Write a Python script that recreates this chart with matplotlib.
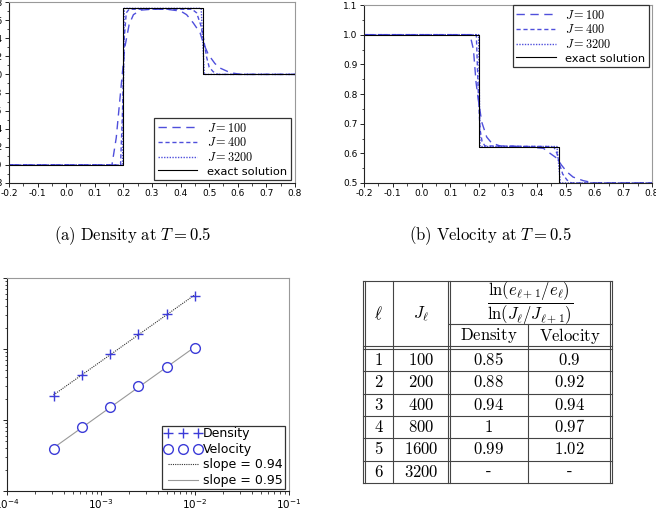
import numpy as np
import matplotlib
matplotlib.use("Agg")
import matplotlib.pyplot as plt
from matplotlib.font_manager import FontProperties

# ── data ──────────────────────────────────────────────────────────────────────
exact_x = [-0.2, 0.2, 0.2, 0.477, 0.477, 0.8]
rho_exact = [1.0, 1.0, 2.73, 2.73, 2.0, 2.0]
u_exact = [1.0, 1.0, 0.623, 0.623, 0.5, 0.5]

rho100_x = [-0.2, 0.16, 0.175, 0.19, 0.205, 0.22, 0.235, 0.26, 0.3, 0.35, 0.40,
            0.421, 0.444, 0.468, 0.479, 0.497, 0.52, 0.538, 0.573, 0.61, 0.8]
rho100_y = [1.0, 1.0, 1.3, 1.8, 2.3, 2.55, 2.66, 2.71, 2.72, 2.72, 2.70,
            2.66, 2.57, 2.46, 2.35, 2.22, 2.12, 2.07, 2.02, 2.0, 2.0]
rho400_x = [-0.2, 0.19, 0.197, 0.203, 0.21, 0.22, 0.44, 0.456, 0.47, 0.48,
            0.491, 0.50, 0.514, 0.53, 0.8]
rho400_y = [1.0, 1.0, 1.6, 2.4, 2.68, 2.72, 2.72, 2.68, 2.55, 2.4,
            2.19, 2.08, 2.03, 2.0, 2.0]
rho3200_x = [-0.2, 0.197, 0.203, 0.472, 0.483, 0.8]
rho3200_y = [1.0, 1.0, 2.73, 2.73, 2.0, 2.0]

u100_x = [-0.2, 0.168, 0.18, 0.189, 0.197, 0.209, 0.226, 0.243, 0.272, 0.35,
          0.423, 0.446, 0.469, 0.486, 0.504, 0.526, 0.561, 0.6, 0.8]
u100_y = [1.0, 1.0, 0.95, 0.84, 0.78, 0.705, 0.655, 0.635, 0.625, 0.623,
          0.617, 0.60, 0.584, 0.56, 0.538, 0.52, 0.508, 0.5, 0.5]
u400_x = [-0.2, 0.19, 0.197, 0.203, 0.21, 0.22, 0.44, 0.46, 0.47, 0.48, 0.49,
          0.505, 0.52, 0.8]
u400_y = [1.0, 1.0, 0.8, 0.68, 0.64, 0.625, 0.623, 0.62, 0.60, 0.56, 0.53,
          0.51, 0.5, 0.5]
u3200_x = [-0.2, 0.198, 0.203, 0.47, 0.482, 0.8]
u3200_y = [1.0, 1.0, 0.623, 0.623, 0.5, 0.5]

J_levels = [3200, 1600, 800, 400, 200, 100]
err_density = [0.0218, 0.0431, 0.0851, 0.164, 0.309, 0.557]
err_velocity = [0.00386, 0.00796, 0.01538, 0.0299, 0.0557, 0.1033]
slope_labels = ["slope = 0.94", "slope = 0.95"]

table_ell = ["1", "2", "3", "4", "5", "6"]
table_J = ["100", "200", "400", "800", "1600", "3200"]
table_density = ["0.85", "0.88", "0.94", "1", "0.99", "-"]
table_velocity = ["0.9", "0.92", "0.94", "0.97", "1.02", "-"]

# ── style ─────────────────────────────────────────────────────────────────────
BLUE = "#3c3cd8"
TICK_FS = 6.5
LEG_FS = 8.0
cm = dict(math_fontfamily="cm")
cm_prop = FontProperties(size=LEG_FS + 0.8, math_fontfamily="cm")

W, H = 656, 525
fig = plt.figure(figsize=(W / 100, H / 100), dpi=100)


def px_axes(left, top, right, bottom):
    return fig.add_axes([left / W, 1 - bottom / H, (right - left) / W, (bottom - top) / H])


def style_axes(ax):
    for s in ("top", "right"):
        ax.spines[s].set_color("#999999")
    for s in ("left", "bottom"):
        ax.spines[s].set_color("#222222")
    for s in ax.spines.values():
        s.set_linewidth(0.8)
    ax.tick_params(which="both", direction="out", top=False, right=False,
                   labelsize=TICK_FS, pad=1.5)
    ax.tick_params(which="major", length=3, width=0.6)
    ax.tick_params(which="minor", length=1.8, width=0.5)


def solution_panel(ax, curves, exact_y, ylim, ystep, legend_loc, bbox):
    styles = [(0, (6, 4)), (0, (3, 2)), (0, (1, 1))]
    labels = ["$J = 100$", "$J = 400$", "$J = 3200$"]
    for (xs, ys), ls, lab in zip(curves, styles, labels):
        ax.plot(xs, ys, color=BLUE, lw=1.0, ls=ls, label=lab, alpha=0.9)
    ax.plot(exact_x, exact_y, color="black", lw=0.8, label="exact solution")
    ax.set_xlim(-0.2, 0.8)
    ax.set_ylim(*ylim)
    ax.set_xticks(np.arange(-0.2, 0.81, 0.1))
    ax.set_xticks(np.arange(-0.2, 0.81, 0.05), minor=True)
    ax.set_yticks(np.arange(ylim[0], ylim[1] + 1e-9, ystep))
    ax.set_yticks(np.arange(ylim[0], ylim[1] + 1e-9, ystep / 2), minor=True)
    ax.xaxis.set_major_formatter(matplotlib.ticker.FormatStrFormatter("%.1f"))
    ax.yaxis.set_major_formatter(matplotlib.ticker.FormatStrFormatter("%.1f"))
    style_axes(ax)
    leg = ax.legend(loc=legend_loc, bbox_to_anchor=bbox, prop=cm_prop,
                    fancybox=False, framealpha=1, edgecolor="#333333",
                    handlelength=3.2, borderpad=0.3, labelspacing=0.15,
                    borderaxespad=0.0)
    leg.get_frame().set_linewidth(0.9)
    for t in leg.get_texts():
        if "$" not in t.get_text():
            t.set_fontsize(LEG_FS + 0.2)


# ── (a) density ───────────────────────────────────────────────────────────────
ax_rho = px_axes(9, 2, 295, 183)
solution_panel(ax_rho,
               [(rho100_x, rho100_y), (rho400_x, rho400_y), (rho3200_x, rho3200_y)],
               rho_exact, (0.8, 2.8), 0.2, "lower right", (0.985, 0.015))

# ── (b) velocity ──────────────────────────────────────────────────────────────
ax_u = px_axes(364, 5, 652, 183)
solution_panel(ax_u,
               [(u100_x, u100_y), (u400_x, u400_y), (u3200_x, u3200_y)],
               u_exact, (0.5, 1.1), 0.1, "upper right", (0.99, 1.0))

fig.text(133 / W, 1 - 236 / H, r"$\mathrm{(a)\ Density\ at\ }T = 0.5$",
         ha="center", va="center", fontsize=12, **cm)
fig.text(490 / W, 1 - 236 / H, r"$\mathrm{(b)\ Velocity\ at\ }T = 0.5$",
         ha="center", va="center", fontsize=12, **cm)

# ── error convergence (log-log) ───────────────────────────────────────────────
ax_e = px_axes(7, 278, 289, 491)
h = 1.0 / np.array(J_levels, dtype=float)
for err, ls, col, lab in zip([err_density, err_velocity], [(0, (1, 1)), "-"],
                             ["#333333", "#999999"], slope_labels):
    p = np.polyfit(np.log10(h), np.log10(err), 1)
    ax_e.plot(h, 10 ** np.polyval(p, np.log10(h)), ls=ls, color=col, lw=0.8,
              label=lab, zorder=1)
ax_e.plot(h, err_density, ls="none", marker="+", ms=7, mew=1.0, color=BLUE,
          label="Density", zorder=3)
ax_e.plot(h, err_velocity, ls="none", marker="o", ms=7, mew=1.0, mfc="white",
          mec=BLUE, label="Velocity", zorder=3)
ax_e.set_xscale("log")
ax_e.set_yscale("log")
ax_e.set_xlim(1e-4, 1e-1)
ax_e.set_ylim(1e-3, 1e0)
style_axes(ax_e)
ax_e.tick_params(axis="x", labelsize=7.5)
handles, labels = ax_e.get_legend_handles_labels()
order = [2, 3, 0, 1]
leg = ax_e.legend([handles[i] for i in order], [labels[i] for i in order],
                  loc="lower right", bbox_to_anchor=(0.985, 0.01), numpoints=3,
                  fontsize=9, fancybox=False, framealpha=1, edgecolor="#333333",
                  handlelength=3.0, handletextpad=0.15, borderpad=0.15,
                  labelspacing=0.2, borderaxespad=0.0)
leg.get_frame().set_linewidth(0.9)

# ── convergence-rate table ────────────────────────────────────────────────────
ax_t = fig.add_axes([0, 0, 1, 1])
ax_t.set_xlim(0, W)
ax_t.set_ylim(H, 0)
ax_t.axis("off")

col_edges = [364, 393, 449, 528, 611]
top, frac_line, head_bot, row_h = 281, 324, 347.5, 22.3
n_rows = len(table_J)
bottom = head_bot + 1.5 + n_rows * row_h
lc = dict(color="#444444", lw=0.8)
dbl = 1.2

# vertical rules (doubles on the outside and after J column)
for x in (col_edges[0], col_edges[2], col_edges[4]):
    ax_t.plot([x - dbl, x - dbl], [top, bottom], **lc)
    ax_t.plot([x + dbl, x + dbl], [top, bottom], **lc)
ax_t.plot([col_edges[1]] * 2, [top, bottom], **lc)
ax_t.plot([col_edges[3]] * 2, [frac_line, bottom], **lc)

# horizontal rules
ax_t.plot([col_edges[0] - dbl, col_edges[4] + dbl], [top, top], **lc)
ax_t.plot([col_edges[2], col_edges[4] + dbl], [frac_line, frac_line], **lc)
for y in (head_bot - 1.5, head_bot + 1.5):
    ax_t.plot([col_edges[0] - dbl, col_edges[4] + dbl], [y, y], **lc)
for i in range(1, n_rows + 1):
    y = head_bot + 1.5 + i * row_h
    ax_t.plot([col_edges[0] - dbl, col_edges[4] + dbl], [y, y], **lc)

fs = 12
ax_t.text((col_edges[0] + col_edges[1]) / 2, (top + head_bot) / 2, r"$\ell$",
          ha="center", va="center", fontsize=fs, **cm)
ax_t.text((col_edges[1] + col_edges[2]) / 2, (top + head_bot) / 2, r"$J_\ell$",
          ha="center", va="center", fontsize=fs, **cm)
ax_t.text((col_edges[2] + col_edges[4]) / 2, (top + frac_line) / 2 + 0.5,
          r"$\dfrac{\ln(e_{\ell+1}/e_\ell)}{\ln(J_\ell/J_{\ell+1})}$",
          ha="center", va="center", fontsize=fs, **cm)
ax_t.text((col_edges[2] + col_edges[3]) / 2, (frac_line + head_bot) / 2,
          r"$\mathrm{Density}$", ha="center", va="center", fontsize=fs, **cm)
ax_t.text((col_edges[3] + col_edges[4]) / 2, (frac_line + head_bot) / 2,
          r"$\mathrm{Velocity}$", ha="center", va="center", fontsize=fs, **cm)

for i, row in enumerate(zip(table_ell, table_J, table_density, table_velocity)):
    yc = head_bot + 1.5 + (i + 0.5) * row_h
    for j, val in enumerate(row):
        xc = (col_edges[j] + col_edges[j + 1]) / 2
        if val == "-":
            ax_t.text(xc, yc, val, ha="center", va="center", fontsize=fs,
                      family="cmr10")
        else:
            ax_t.text(xc, yc, r"$\mathrm{%s}$" % val, ha="center", va="center",
                      fontsize=fs, **cm)

fig.savefig("out.png", dpi=100)
